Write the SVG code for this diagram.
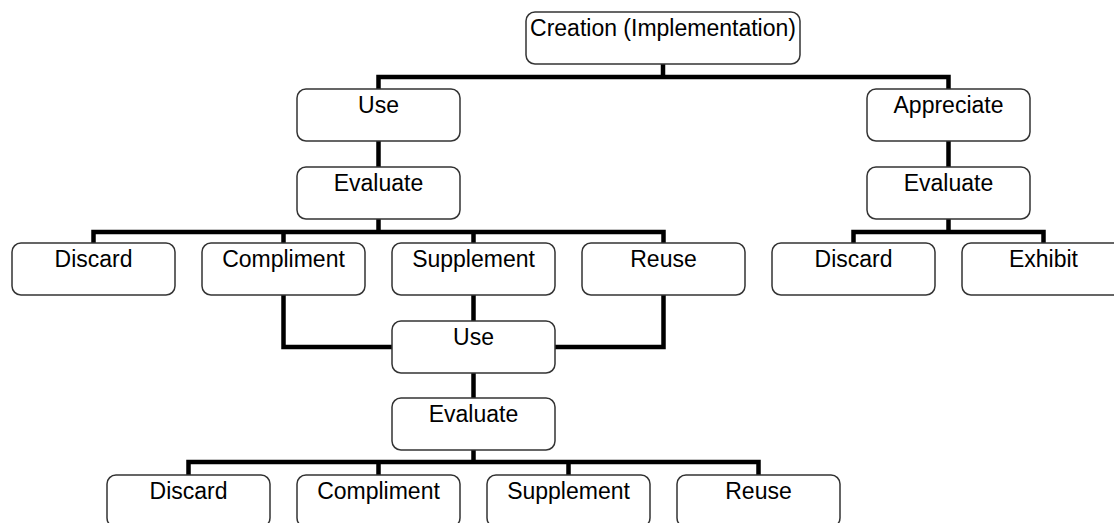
<svg xmlns="http://www.w3.org/2000/svg" width="1114" height="523" viewBox="0 0 1114 523">
<style>
.box{fill:#fff;stroke:#333;stroke-width:1.5}
.lbl{font-family:"Liberation Sans",Arial,sans-serif;font-size:23px;fill:#000;text-anchor:middle}
.con{fill:none;stroke:#000;stroke-width:4.5;stroke-linejoin:miter}
</style>
<rect width="1114" height="523" fill="#fff"/>
<g id="connectors">
<path class="con" d="M663 64V77M378.5 89V77H948.5V89"/>
<path class="con" d="M378.5 141V167M948.5 141V167"/>
<path class="con" d="M378.5 218V232M93.5 243V232H663.5V243M283.5 232V243M473.5 232V243"/>
<path class="con" d="M948.5 218V232M853.5 243V232H1043.5V243"/>
<path class="con" d="M283.5 295V347H392M663.5 295V347H555M473.5 295V321"/>
<path class="con" d="M473.5 372V398"/>
<path class="con" d="M473.5 450V462M188.5 475V462H758.5V475M378.5 462V475M568.5 462V475"/>
</g>
<g id="creation"><rect class="box" x="526" y="12" width="274" height="52" rx="9"/><text class="lbl" x="663" y="36">Creation (Implementation)</text></g>
<g id="use1"><rect class="box" x="297" y="89" width="163" height="52" rx="9"/><text class="lbl" x="378.5" y="113">Use</text></g>
<g id="appreciate"><rect class="box" x="867" y="89" width="163" height="52" rx="9"/><text class="lbl" x="948.5" y="113">Appreciate</text></g>
<g id="evaluate1"><rect class="box" x="297" y="167" width="163" height="52" rx="9"/><text class="lbl" x="378.5" y="191">Evaluate</text></g>
<g id="evaluate2"><rect class="box" x="867" y="167" width="163" height="52" rx="9"/><text class="lbl" x="948.5" y="191">Evaluate</text></g>
<g id="discard1"><rect class="box" x="12" y="243" width="163" height="52" rx="9"/><text class="lbl" x="93.5" y="267">Discard</text></g>
<g id="compliment1"><rect class="box" x="202" y="243" width="163" height="52" rx="9"/><text class="lbl" x="283.5" y="267">Compliment</text></g>
<g id="supplement1"><rect class="box" x="392" y="243" width="163" height="52" rx="9"/><text class="lbl" x="473.5" y="267">Supplement</text></g>
<g id="reuse1"><rect class="box" x="582" y="243" width="163" height="52" rx="9"/><text class="lbl" x="663.5" y="267">Reuse</text></g>
<g id="discard2"><rect class="box" x="772" y="243" width="163" height="52" rx="9"/><text class="lbl" x="853.5" y="267">Discard</text></g>
<g id="exhibit"><rect class="box" x="962" y="243" width="163" height="52" rx="9"/><text class="lbl" x="1043.5" y="267">Exhibit</text></g>
<g id="use2"><rect class="box" x="392" y="321" width="163" height="52" rx="9"/><text class="lbl" x="473.5" y="345">Use</text></g>
<g id="evaluate3"><rect class="box" x="392" y="398" width="163" height="52" rx="9"/><text class="lbl" x="473.5" y="422">Evaluate</text></g>
<g id="discard3"><rect class="box" x="107" y="475" width="163" height="52" rx="9"/><text class="lbl" x="188.5" y="499">Discard</text></g>
<g id="compliment3"><rect class="box" x="297" y="475" width="163" height="52" rx="9"/><text class="lbl" x="378.5" y="499">Compliment</text></g>
<g id="supplement3"><rect class="box" x="487" y="475" width="163" height="52" rx="9"/><text class="lbl" x="568.5" y="499">Supplement</text></g>
<g id="reuse3"><rect class="box" x="677" y="475" width="163" height="52" rx="9"/><text class="lbl" x="758.5" y="499">Reuse</text></g>
</svg>
